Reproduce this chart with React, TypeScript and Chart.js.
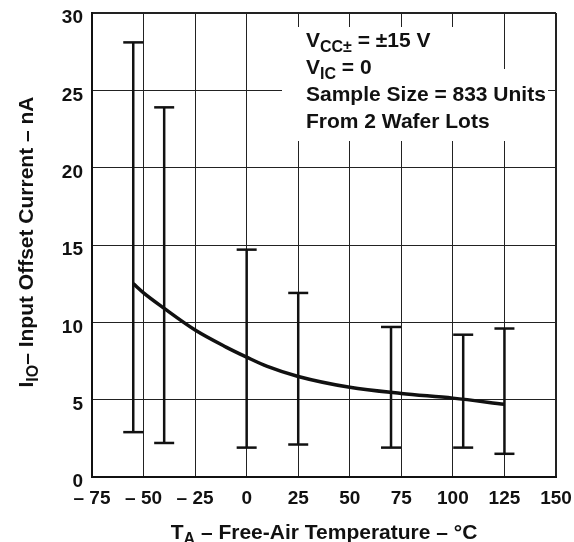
import React, { useEffect, useRef } from "react";
import { Chart, registerables } from "chart.js";

Chart.register(...registerables);

// Typical curve (I_IO vs T_A)
const curveTemps = [-55, -50, -40, -25, -10, 0, 10, 25, 50, 75, 100, 125];
const curveValues = [12.5, 11.9, 10.9, 9.5, 8.4, 7.75, 7.15, 6.5, 5.8, 5.4, 5.1, 4.7];

// Error bars (distribution range)
const barTemps = [-55, -40, 0, 25, 70, 105, 125];
const barLows = [2.9, 2.2, 1.9, 2.1, 1.9, 1.9, 1.5];
const barHighs = [28.1, 23.9, 14.7, 11.9, 9.7, 9.2, 9.6];

// Axis ticks
const xTickValues = [-75, -50, -25, 0, 25, 50, 75, 100, 125, 150];
const xTickLabels = ["– 75", "– 50", "– 25", "0", "25", "50", "75", "100", "125", "150"];
const yTickValues = [0, 5, 10, 15, 20, 25, 30];
const yTickLabels = ["0", "5", "10", "15", "20", "25", "30"];

const FONT = '"Liberation Sans", Arial, Helvetica, sans-serif';

type Seg = { t: string; sub?: boolean };

function segWidth(ctx: CanvasRenderingContext2D, segs: Seg[], size: number) {
  let w = 0;
  for (const s of segs) {
    ctx.font = `bold ${s.sub ? Math.round(size * 0.78) : size}px ${FONT}`;
    w += ctx.measureText(s.t).width;
  }
  return w;
}

function drawSegs(ctx: CanvasRenderingContext2D, segs: Seg[], x: number, y: number, size: number) {
  let cx = x;
  ctx.textBaseline = "alphabetic";
  ctx.textAlign = "left";
  for (const s of segs) {
    const fs = s.sub ? Math.round(size * 0.78) : size;
    ctx.font = `bold ${fs}px ${FONT}`;
    ctx.fillText(s.t, cx, s.sub ? y + size * 0.22 : y);
    cx += ctx.measureText(s.t).width;
  }
}

const xTitle: Seg[] = [{ t: "T" }, { t: "A", sub: true }, { t: " – Free-Air Temperature – °C" }];
const yTitle: Seg[] = [{ t: "I" }, { t: "IO", sub: true }, { t: "– Input Offset Current – nA" }];
const noteLines: Seg[][] = [
  [{ t: "V" }, { t: "CC±", sub: true }, { t: " = ±15 V" }],
  [{ t: "V" }, { t: "IC", sub: true }, { t: " = 0" }],
  [{ t: "Sample Size = 833 Units" }],
  [{ t: "From 2 Wafer Lots" }],
];

const decorPlugin = {
  id: "decor",
  beforeDatasetsDraw(chart: any) {
    const ctx = chart.ctx as CanvasRenderingContext2D;
    ctx.save();
    ctx.fillStyle = "#fff";
    ctx.fillRect(282, 27, 218, 43);
    ctx.fillRect(282, 69, 266, 72);
    ctx.fillStyle = "#111";
    const bases = [47, 74, 101, 128];
    noteLines.forEach((segs, i) => drawSegs(ctx, segs, 306, bases[i], 21));
    ctx.restore();
  },
  afterDraw(chart: any) {
    const ctx = chart.ctx as CanvasRenderingContext2D;
    const a = chart.chartArea;
    ctx.save();
    ctx.fillStyle = "#111";
    const size = 21;
    const wx = segWidth(ctx, xTitle, size);
    drawSegs(ctx, xTitle, (a.left + a.right) / 2 - wx / 2, 539, size);
    const wy = segWidth(ctx, yTitle, size);
    ctx.translate(33, (a.top + a.bottom) / 2 - 3);
    ctx.rotate(-Math.PI / 2);
    drawSegs(ctx, yTitle, -wy / 2, 0, size);
    ctx.restore();
  },
};

export default function App() {
  const ref = useRef<HTMLCanvasElement>(null);
  useEffect(() => {
    if (!ref.current) return;
    const barData: any[] = [];
    barTemps.forEach((t, i) => {
      barData.push({ x: t, y: barLows[i] });
      barData.push({ x: t, y: barHighs[i] });
      barData.push({ x: t, y: null });
    });
    const edge = (c: any) =>
      c.tick && (c.tick.value === c.scale.min || c.tick.value === c.scale.max) ? 2 : 1;
    const chart = new Chart(ref.current, {
      type: "line",
      data: {
        datasets: [
          {
            data: barData,
            borderColor: "#111",
            borderWidth: 2.5,
            pointStyle: "line",
            pointRadius: 10,
            pointBorderWidth: 2.5,
            pointBorderColor: "#111",
            spanGaps: false,
            fill: false,
          },
          {
            data: curveTemps.map((t, i) => ({ x: t, y: curveValues[i] })),
            borderColor: "#111",
            borderWidth: 3.5,
            pointRadius: 0,
            cubicInterpolationMode: "monotone",
            fill: false,
          },
        ],
      },
      plugins: [decorPlugin],
      options: {
        animation: false,
        responsive: true,
        maintainAspectRatio: false,
        layout: { padding: { top: 13, right: 18, bottom: 0, left: 0 } },
        plugins: { legend: { display: false }, tooltip: { enabled: false } },
        scales: {
          x: {
            type: "linear",
            min: -75,
            max: 150,
            afterFit: (s: any) => {
              s.height = 65;
              s.paddingLeft = 0;
              s.paddingRight = 0;
            },
            afterBuildTicks: (s: any) => {
              s.ticks = xTickValues.map((v) => ({ value: v }));
            },
            ticks: {
              color: "#111",
              padding: 10,
              maxRotation: 0,
              autoSkip: false,
              font: { family: FONT, size: 19, weight: "bold" },
              callback: (v: any) => xTickLabels[xTickValues.indexOf(Number(v))] ?? "",
            },
            grid: { color: "#222", lineWidth: edge, drawTicks: false },
            border: { color: "#111", width: 2 },
          },
          y: {
            min: 0,
            max: 30,
            afterFit: (s: any) => {
              s.width = 92;
              s.paddingTop = 0;
              s.paddingBottom = 0;
            },
            afterBuildTicks: (s: any) => {
              s.ticks = yTickValues.map((v) => ({ value: v }));
            },
            ticks: {
              color: "#111",
              padding: 9,
              labelOffset: 5,
              autoSkip: false,
              font: { family: FONT, size: 19, weight: "bold" },
              callback: (v: any) => yTickLabels[yTickValues.indexOf(Number(v))] ?? "",
            },
            grid: { color: "#222", lineWidth: edge, drawTicks: false },
            border: { color: "#111", width: 2 },
          },
        },
      },
    } as any);
    return () => chart.destroy();
  }, []);
  return (
    <div style={{ position: "fixed", left: 0, top: 0, width: 574, height: 542, background: "#fff" }}>
      <canvas ref={ref} />
    </div>
  );
}
